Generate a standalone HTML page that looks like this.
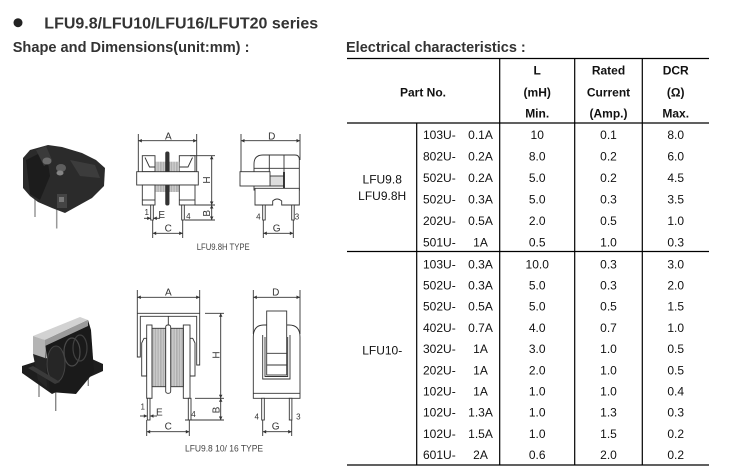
<!DOCTYPE html>
<html><head><meta charset="utf-8"><style>
html,body{margin:0;padding:0;background:#fff;}
svg{display:block;}
text{font-family:"Liberation Sans",Arial,sans-serif;}
</style></head><body>
<svg width="734" height="466" viewBox="0 0 734 466" xmlns="http://www.w3.org/2000/svg">
<defs>
<marker id="ar" viewBox="0 0 6 6" refX="6" refY="3" markerWidth="4.5" markerHeight="3.5" markerUnits="userSpaceOnUse" orient="auto-start-reverse"><path d="M0,0 L6,3 L0,6 z" fill="#333"/></marker>
<pattern id="hatch" width="1.6" height="4" patternUnits="userSpaceOnUse"><rect width="1.6" height="4" fill="#d2d2d2"/><rect width="0.6" height="4" fill="#9a9a9a"/></pattern>
</defs>

<!-- Headings -->
<circle cx="18" cy="22.7" r="4.5" fill="#222"/>
<text x="44.3" y="28.4" font-size="16" font-weight="bold" fill="#333">LFU9.8/LFU10/LFU16/LFUT20 series</text>
<text x="12.7" y="52.2" font-size="14.6" font-weight="bold" fill="#333">Shape and Dimensions(unit:mm) :</text>
<text x="346" y="52.2" font-size="14.5" font-weight="bold" fill="#333">Electrical characteristics :</text>

<!-- Table lines -->
<g stroke="#000" stroke-width="1.2">
<line x1="347" y1="58.5" x2="709" y2="58.5"/>
<line x1="347" y1="123" x2="709" y2="123"/>
<line x1="347" y1="251.5" x2="709" y2="251.5"/>
<line x1="347" y1="465" x2="709" y2="465"/>
<line x1="416.7" y1="123" x2="416.7" y2="465"/>
<line x1="499.7" y1="58.5" x2="499.7" y2="465"/>
<line x1="574.7" y1="58.5" x2="574.7" y2="465"/>
<line x1="642.3" y1="58.5" x2="642.3" y2="465"/>
</g>

<!-- Table header -->
<g font-size="12" font-weight="bold" fill="#111" text-anchor="middle">
<text x="423" y="96.3">Part No.</text>
<text x="537.2" y="74.3">L</text>
<text x="537.2" y="96.3">(mH)</text>
<text x="537.2" y="117.3">Min.</text>
<text x="608.5" y="74.3">Rated</text>
<text x="608.5" y="96.3">Current</text>
<text x="608.5" y="117.3">(Amp.)</text>
<text x="675.7" y="74.3">DCR</text>
<text x="675.7" y="96.3">(Ω)</text>
<text x="675.7" y="117.3">Max.</text>
</g>

<!-- Table body -->
<g font-size="12" fill="#111">
<text x="382.2" y="183.6" text-anchor="middle">LFU9.8</text>
<text x="382.2" y="200" text-anchor="middle">LFU9.8H</text>
<text x="382.2" y="354.3" text-anchor="middle">LFU10-</text>

<g>
<text x="423" y="139">103U-</text><text x="480.5" y="139" text-anchor="middle">0.1A</text><text x="537.2" y="139" text-anchor="middle">10</text><text x="608.5" y="139" text-anchor="middle">0.1</text><text x="675.7" y="139" text-anchor="middle">8.0</text>
<text x="423" y="160.5">802U-</text><text x="480.5" y="160.5" text-anchor="middle">0.2A</text><text x="537.2" y="160.5" text-anchor="middle">8.0</text><text x="608.5" y="160.5" text-anchor="middle">0.2</text><text x="675.7" y="160.5" text-anchor="middle">6.0</text>
<text x="423" y="182">502U-</text><text x="480.5" y="182" text-anchor="middle">0.2A</text><text x="537.2" y="182" text-anchor="middle">5.0</text><text x="608.5" y="182" text-anchor="middle">0.2</text><text x="675.7" y="182" text-anchor="middle">4.5</text>
<text x="423" y="203.4">502U-</text><text x="480.5" y="203.4" text-anchor="middle">0.3A</text><text x="537.2" y="203.4" text-anchor="middle">5.0</text><text x="608.5" y="203.4" text-anchor="middle">0.3</text><text x="675.7" y="203.4" text-anchor="middle">3.5</text>
<text x="423" y="224.9">202U-</text><text x="480.5" y="224.9" text-anchor="middle">0.5A</text><text x="537.2" y="224.9" text-anchor="middle">2.0</text><text x="608.5" y="224.9" text-anchor="middle">0.5</text><text x="675.7" y="224.9" text-anchor="middle">1.0</text>
<text x="423" y="246.3">501U-</text><text x="480.5" y="246.3" text-anchor="middle">1A</text><text x="537.2" y="246.3" text-anchor="middle">0.5</text><text x="608.5" y="246.3" text-anchor="middle">1.0</text><text x="675.7" y="246.3" text-anchor="middle">0.3</text>
</g>
<g>
<text x="423" y="268.3">103U-</text><text x="480.5" y="268.3" text-anchor="middle">0.3A</text><text x="537.2" y="268.3" text-anchor="middle">10.0</text><text x="608.5" y="268.3" text-anchor="middle">0.3</text><text x="675.7" y="268.3" text-anchor="middle">3.0</text>
<text x="423" y="289.5">502U-</text><text x="480.5" y="289.5" text-anchor="middle">0.3A</text><text x="537.2" y="289.5" text-anchor="middle">5.0</text><text x="608.5" y="289.5" text-anchor="middle">0.3</text><text x="675.7" y="289.5" text-anchor="middle">2.0</text>
<text x="423" y="310.7">502U-</text><text x="480.5" y="310.7" text-anchor="middle">0.5A</text><text x="537.2" y="310.7" text-anchor="middle">5.0</text><text x="608.5" y="310.7" text-anchor="middle">0.5</text><text x="675.7" y="310.7" text-anchor="middle">1.5</text>
<text x="423" y="331.9">402U-</text><text x="480.5" y="331.9" text-anchor="middle">0.7A</text><text x="537.2" y="331.9" text-anchor="middle">4.0</text><text x="608.5" y="331.9" text-anchor="middle">0.7</text><text x="675.7" y="331.9" text-anchor="middle">1.0</text>
<text x="423" y="353.1">302U-</text><text x="480.5" y="353.1" text-anchor="middle">1A</text><text x="537.2" y="353.1" text-anchor="middle">3.0</text><text x="608.5" y="353.1" text-anchor="middle">1.0</text><text x="675.7" y="353.1" text-anchor="middle">0.5</text>
<text x="423" y="374.3">202U-</text><text x="480.5" y="374.3" text-anchor="middle">1A</text><text x="537.2" y="374.3" text-anchor="middle">2.0</text><text x="608.5" y="374.3" text-anchor="middle">1.0</text><text x="675.7" y="374.3" text-anchor="middle">0.5</text>
<text x="423" y="395.5">102U-</text><text x="480.5" y="395.5" text-anchor="middle">1A</text><text x="537.2" y="395.5" text-anchor="middle">1.0</text><text x="608.5" y="395.5" text-anchor="middle">1.0</text><text x="675.7" y="395.5" text-anchor="middle">0.4</text>
<text x="423" y="416.7">102U-</text><text x="480.5" y="416.7" text-anchor="middle">1.3A</text><text x="537.2" y="416.7" text-anchor="middle">1.0</text><text x="608.5" y="416.7" text-anchor="middle">1.3</text><text x="675.7" y="416.7" text-anchor="middle">0.3</text>
<text x="423" y="437.9">102U-</text><text x="480.5" y="437.9" text-anchor="middle">1.5A</text><text x="537.2" y="437.9" text-anchor="middle">1.0</text><text x="608.5" y="437.9" text-anchor="middle">1.5</text><text x="675.7" y="437.9" text-anchor="middle">0.2</text>
<text x="423" y="459.1">601U-</text><text x="480.5" y="459.1" text-anchor="middle">2A</text><text x="537.2" y="459.1" text-anchor="middle">0.6</text><text x="608.5" y="459.1" text-anchor="middle">2.0</text><text x="675.7" y="459.1" text-anchor="middle">0.2</text>
</g>
</g>

<!-- ===== Photo 1 ===== -->
<g>
<line x1="35" y1="198" x2="35" y2="217" stroke="#999" stroke-width="1.5"/>
<line x1="56.7" y1="208" x2="56.7" y2="228.5" stroke="#999" stroke-width="1.5"/>
<polygon points="23,158 30,150 48,145 62,147 82,153 96,160 105,168 104,186 92,198 65,213 52,208 38,202 30,196 23,188" fill="#2b2b2b"/>
<polygon points="26,160 46,150 50,176 40,200 30,194" fill="#1c1c1c"/>
<polygon points="36,150 46,146 52,160 44,166" fill="#3a3a3a"/>
<ellipse cx="47" cy="161" rx="4.5" ry="3.5" fill="#6c6c6c"/>
<ellipse cx="61" cy="168" rx="5" ry="4" fill="#5e5e5e"/>
<ellipse cx="60" cy="173" rx="3.5" ry="2.5" fill="#858585"/>
<polygon points="70,160 95,165 100,178 80,176" fill="#3c3c3c"/>
<rect x="57" y="194" width="10" height="14" fill="#444"/>
<rect x="59" y="197" width="5" height="5" fill="#777"/>
</g>

<!-- ===== Photo 2 ===== -->
<g>
<line x1="39" y1="378" x2="39" y2="397" stroke="#888" stroke-width="1.4"/>
<line x1="55.7" y1="388" x2="55.7" y2="411" stroke="#888" stroke-width="1.4"/>
<line x1="88.3" y1="366" x2="88.3" y2="386" stroke="#888" stroke-width="1.4"/>
<polygon points="22,366 22,373 52,394 103,371 103,364 72,350" fill="#1e1e1e"/>
<polygon points="45,340 88,320 91,330 94,372 76,394 50,392" fill="#1a1a1a"/>
<ellipse cx="72" cy="352" rx="8" ry="14" fill="none" stroke="#4a4a4a" stroke-width="1.2"/>
<ellipse cx="80" cy="348" rx="7" ry="13" fill="none" stroke="#404040" stroke-width="1.2"/>
<ellipse cx="56" cy="364" rx="9" ry="18" fill="#262626" stroke="#444" stroke-width="1"/>
<polygon points="33,354 33,338 45,340 47,388 38,380" fill="#252525"/>
<polygon points="33,336 80,317 88,320 45,340" fill="#d2d2d2"/>
<polygon points="33,336 45,340 45,358 33,354" fill="#b4b4b4"/>
<polygon points="45,340 88,320 88,326 45,346" fill="#9a9a9a"/>
<polygon points="28,368 55,384 60,382 33,366" fill="#3a3a3a"/>
</g>

<!-- ===== Drawing 1 : LFU9.8H front ===== -->
<g stroke="#333" stroke-width="0.9" fill="#fff">
<line x1="138.3" y1="134" x2="138.3" y2="172"/>
<line x1="196.7" y1="134" x2="196.7" y2="172"/>
<line x1="138.3" y1="140.7" x2="196.7" y2="140.7" marker-start="url(#ar)" marker-end="url(#ar)"/>
<rect x="142.3" y="155.7" width="12.7" height="16"/>
<polyline points="145,157.5 149.5,167 155,167" fill="none"/>
<rect x="179.3" y="155.7" width="15.7" height="16"/>
<polyline points="192.5,157.5 188,167 179.3,167" fill="none"/>
<rect x="155.7" y="161.7" width="23.6" height="10" fill="url(#hatch)" stroke="none"/>
<rect x="155.7" y="185" width="23.6" height="7" fill="url(#hatch)" stroke="none"/>
<rect x="165.7" y="152" width="3.3" height="53" rx="1.5" fill="#333"/>
<rect x="136.7" y="171.7" width="61.6" height="13.3"/>
<rect x="142.3" y="185" width="12.7" height="20"/>
<line x1="142.3" y1="200" x2="155" y2="200"/>
<rect x="179.3" y="185" width="15.7" height="20"/>
<line x1="179.3" y1="200" x2="195" y2="200"/>
<rect x="150.7" y="205" width="2.6" height="15"/>
<rect x="181.7" y="205" width="2.6" height="15"/>
<line x1="190" y1="155.7" x2="215" y2="155.7"/>
<line x1="195" y1="205" x2="215" y2="205"/>
<line x1="185" y1="220" x2="215" y2="220"/>
<line x1="211.7" y1="155.7" x2="211.7" y2="205" marker-start="url(#ar)" marker-end="url(#ar)"/>
<line x1="211.7" y1="205" x2="211.7" y2="220" marker-start="url(#ar)" marker-end="url(#ar)"/>
<line x1="152.7" y1="220" x2="152.7" y2="238"/>
<line x1="182.7" y1="220" x2="182.7" y2="238"/>
<line x1="152.7" y1="233.3" x2="182.7" y2="233.3" marker-start="url(#ar)" marker-end="url(#ar)"/>
<line x1="144" y1="218.3" x2="150.7" y2="218.3" marker-end="url(#ar)"/>
<line x1="160" y1="218.3" x2="153.3" y2="218.3" marker-end="url(#ar)"/>
</g>
<g font-size="10" fill="#333" text-anchor="middle">
<text x="168.3" y="139.6">A</text>
<text x="168.3" y="231.3">C</text>
<text x="161.7" y="218">E</text>
<text x="206.7" y="180" transform="rotate(-90 206.7 180)" dy="3.5">H</text>
<text x="206.7" y="213.3" transform="rotate(-90 206.7 213.3)" dy="3.5">B</text>
<text x="146.7" y="215" font-size="8">1</text>
<text x="188.3" y="219" font-size="8">4</text>
</g>

<!-- Drawing 1 side -->
<g stroke="#333" stroke-width="0.9" fill="#fff">
<line x1="241" y1="134" x2="241" y2="172"/>
<line x1="300" y1="134" x2="300" y2="160"/>
<line x1="241" y1="140.7" x2="300" y2="140.7" marker-start="url(#ar)" marker-end="url(#ar)"/>
<path d="M254,190 V164 Q254,155 263,155 H295 Q299.3,155 299.3,159.5 V190 Z"/>
<line x1="254" y1="168.3" x2="299.3" y2="168.3"/>
<line x1="269.3" y1="155" x2="269.3" y2="172"/>
<line x1="284" y1="155" x2="284" y2="188"/>
<rect x="270" y="176" width="14" height="10" fill="#ddd"/>
<line x1="284" y1="172" x2="284" y2="188" stroke="#222" stroke-width="1.8"/>
<rect x="240" y="171.7" width="30" height="14.3"/>
<path d="M255,188.3 H299.3 V205 H281.7 V201 Q277,197 272.7,201 V205 H255 Z"/>
<rect x="262.7" y="205" width="2.5" height="15"/>
<rect x="291.7" y="205" width="2.5" height="15"/>
<line x1="263.3" y1="220" x2="263.3" y2="238"/>
<line x1="293.3" y1="220" x2="293.3" y2="238"/>
<line x1="263.3" y1="233.3" x2="293.3" y2="233.3" marker-start="url(#ar)" marker-end="url(#ar)"/>
</g>
<g font-size="10" fill="#333" text-anchor="middle">
<text x="271.7" y="139.6">D</text>
<text x="276.7" y="231.3">G</text>
<text x="258.3" y="219.5" font-size="8">4</text>
<text x="297" y="219.5" font-size="8">3</text>
</g>
<text x="196.7" y="250" font-size="9" fill="#444" textLength="53" lengthAdjust="spacingAndGlyphs">LFU9.8H TYPE</text>

<!-- ===== Drawing 2 front ===== -->
<g stroke="#333" stroke-width="0.9" fill="#fff">
<line x1="137.3" y1="290" x2="137.3" y2="313"/>
<line x1="199.7" y1="290" x2="199.7" y2="313"/>
<line x1="137.3" y1="297.3" x2="199.7" y2="297.3" marker-start="url(#ar)" marker-end="url(#ar)"/>
<path d="M137.3,357 V313.3 H199.7 V365 H196.7 V316.3 H140.3 V357 Z"/>
<line x1="168.3" y1="316.3" x2="168.3" y2="326"/>
<path d="M141.7,376 V343 L144,338.3 H146.7 V376 Z"/>
<path d="M195,376 V343 L192.7,338.3 H190 V376 Z"/>
<rect x="146.7" y="325" width="5.3" height="73.3"/>
<rect x="183.3" y="325" width="6.7" height="73.3"/>
<rect x="152" y="328.3" width="31.3" height="58.4" fill="url(#hatch)"/>
<rect x="165.7" y="325" width="5" height="68.3" rx="2"/>
<rect x="147.3" y="398.3" width="2.7" height="21.7"/>
<rect x="188.3" y="398.3" width="2.7" height="21.7"/>
<line x1="205" y1="313.3" x2="224" y2="313.3"/>
<line x1="195" y1="398.3" x2="224" y2="398.3"/>
<line x1="185" y1="420" x2="224" y2="420"/>
<line x1="220.7" y1="313.3" x2="220.7" y2="398.3" marker-start="url(#ar)" marker-end="url(#ar)"/>
<line x1="220.7" y1="398.3" x2="220.7" y2="420" marker-start="url(#ar)" marker-end="url(#ar)"/>
<line x1="146.7" y1="420" x2="146.7" y2="436"/>
<line x1="189.3" y1="420" x2="189.3" y2="436"/>
<line x1="146.7" y1="431.7" x2="189.3" y2="431.7" marker-start="url(#ar)" marker-end="url(#ar)"/>
<line x1="140" y1="416" x2="147.3" y2="416" marker-end="url(#ar)"/>
<line x1="157" y1="416" x2="150" y2="416" marker-end="url(#ar)"/>
</g>
<g font-size="10" fill="#333" text-anchor="middle">
<text x="168.3" y="295.3">A</text>
<text x="168.3" y="429.6">C</text>
<text x="159.3" y="415.3">E</text>
<text x="216" y="355" transform="rotate(-90 216 355)" dy="3.5">H</text>
<text x="216" y="410" transform="rotate(-90 216 410)" dy="3.5">B</text>
<text x="142.7" y="409.5" font-size="8">1</text>
<text x="193.5" y="417" font-size="8">4</text>
</g>

<!-- Drawing 2 side -->
<g stroke="#333" stroke-width="0.9" fill="#fff">
<line x1="253.3" y1="290" x2="253.3" y2="334"/>
<line x1="300" y1="290" x2="300" y2="334"/>
<line x1="253.3" y1="297.3" x2="300" y2="297.3" marker-start="url(#ar)" marker-end="url(#ar)"/>
<path d="M253.3,398.3 V337 Q253.3,325 264,325 H289 Q300,325 300,337 V398.3 Z"/>
<line x1="253.3" y1="393.3" x2="300" y2="393.3"/>
<path d="M262.7,335 V379 H290 V335" fill="none"/>
<path d="M265,337 V376.5 H287.7 V337" fill="none"/>
<rect x="266.7" y="311" width="20" height="64"/>
<line x1="266.7" y1="353.3" x2="286.7" y2="353.3"/>
<line x1="266.7" y1="365" x2="286.7" y2="365"/>
<rect x="261.7" y="398.3" width="2.6" height="21.7"/>
<rect x="289.3" y="398.3" width="2.6" height="21.7"/>
<line x1="262.7" y1="420" x2="262.7" y2="436"/>
<line x1="291.7" y1="420" x2="291.7" y2="436"/>
<line x1="262.7" y1="431.7" x2="291.7" y2="431.7" marker-start="url(#ar)" marker-end="url(#ar)"/>
</g>
<g font-size="10" fill="#333" text-anchor="middle">
<text x="275.7" y="295.3">D</text>
<text x="275.7" y="429.6">G</text>
<text x="256.7" y="419.5" font-size="8">4</text>
<text x="298.3" y="419.5" font-size="8">3</text>
</g>
<text x="185" y="451.6" font-size="9" fill="#444" textLength="78" lengthAdjust="spacingAndGlyphs">LFU9.8 10/ 16 TYPE</text>
</svg>
</body></html>
